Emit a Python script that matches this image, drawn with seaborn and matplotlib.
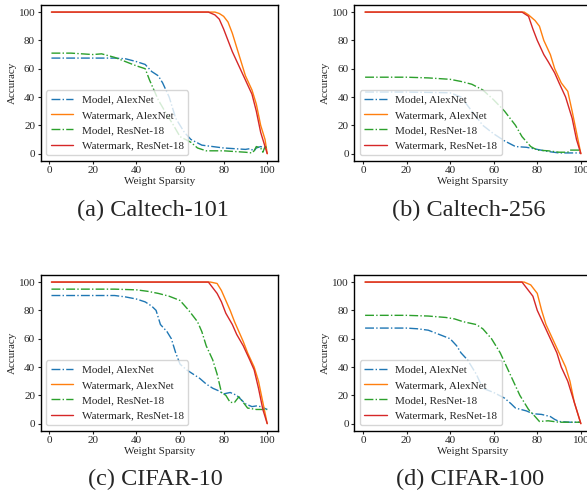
import pandas as pd
import matplotlib
matplotlib.use('Agg')
import matplotlib.pyplot as plt
import seaborn as sns

# --- data (weight sparsity %, accuracy %) ---
series_labels = ['Model, AlexNet', 'Watermark, AlexNet', 'Model, ResNet-18', 'Watermark, ResNet-18']
captions = ['(a) Caltech-101', '(b) Caltech-256', '(c) CIFAR-10', '(d) CIFAR-100']

# (a) Caltech-101
c101_model_alex_x = [1, 10, 20, 30, 35, 40, 44, 47, 50, 52, 55, 58, 62, 65, 70, 75, 80, 85, 90, 92, 94, 95, 97, 99, 100]
c101_model_alex_y = [67.5, 67.5, 67.5, 67.5, 67, 65, 63, 58, 55, 50, 40, 25, 15, 10, 6, 5, 4, 3.5, 3, 3.5, 2, 4, 5, 4, 4]
c101_wm_alex_x = [1, 76, 78, 80, 82, 84, 86, 88, 90, 93, 95, 97, 99, 100]
c101_wm_alex_y = [100, 100, 99, 97, 93, 85, 75, 65, 55, 45, 35, 20, 10, 0]
c101_model_res_x = [1, 10, 20, 24, 30, 35, 40, 44, 46, 48, 50, 53, 57, 60, 65, 68, 72, 80, 85, 90, 93, 94, 95, 97, 98, 99, 100]
c101_model_res_y = [71, 71, 70, 70.5, 68, 65, 62, 60, 52, 45, 38, 30, 20, 12, 8, 4, 2, 2, 1.5, 1, 0.5, 2, 5, 4, 1, 5, 4]
c101_wm_res_x = [1, 73, 76, 78, 80, 82, 84, 87, 90, 93, 95, 97, 99, 100]
c101_wm_res_y = [100, 100, 98, 95, 88, 80, 72, 62, 52, 42, 30, 15, 5, 0]

# (b) Caltech-256
c256_model_alex_x = [1, 20, 40, 45, 50, 55, 60, 65, 70, 75, 80, 85, 90, 95, 100]
c256_model_alex_y = [43.5, 43.5, 43, 40, 30, 20, 14, 9, 5, 4.5, 3, 1.5, 0.5, 0.5, 0.5]
c256_wm_alex_x = [1, 74, 76, 79, 81, 83, 86, 88, 91, 94, 96, 98, 100]
c256_wm_alex_y = [100, 100, 98, 94, 90, 80, 70, 60, 50, 44, 30, 15, 0]
c256_model_res_x = [1, 20, 30, 40, 45, 50, 55, 60, 65, 70, 73, 77, 80, 85, 90, 94, 95, 100]
c256_model_res_y = [54, 54, 53.5, 52.5, 51, 49, 45, 38, 30, 20, 12, 5, 2.5, 2, 1, 1, 2.5, 2.5]
c256_wm_res_x = [1, 73, 76, 78, 80, 83, 85, 88, 90, 93, 96, 98, 100]
c256_wm_res_y = [100, 100, 97, 88, 80, 70, 65, 57, 50, 40, 25, 10, 0]

# (c) CIFAR-10
c10_model_alex_x = [1, 30, 35, 40, 44, 47, 49, 51, 54, 56, 58, 60, 63, 66, 69, 72, 75, 78, 80, 83, 86, 88, 90, 93, 95, 97, 100]
c10_model_alex_y = [90.5, 90.5, 89.5, 88, 86, 83, 80, 70, 65, 60, 50, 42, 38, 35, 32, 28, 25, 23, 21, 22, 20, 17, 14, 12, 12.5, 12, 10]
c10_wm_alex_x = [1, 74, 77, 79, 81, 83, 85, 87, 89, 91, 94, 96, 98, 100]
c10_wm_alex_y = [100, 100, 99, 94, 87, 80, 72, 65, 58, 50, 40, 30, 15, 0]
c10_model_res_x = [1, 30, 40, 45, 50, 55, 60, 64, 68, 70, 72, 75, 77, 79, 81, 83, 85, 87, 89, 91, 95, 100]
c10_model_res_y = [95, 95, 94.5, 93.5, 92, 90, 87, 80, 72, 65, 55, 45, 35, 22, 20, 15, 15, 19, 15, 11, 10, 10]
c10_wm_res_x = [1, 73, 75, 77, 79, 81, 84, 86, 89, 92, 94, 96, 98, 100]
c10_wm_res_y = [100, 100, 96, 92, 86, 78, 70, 63, 55, 45, 38, 25, 10, 0]

# (d) CIFAR-100
c100_model_alex_x = [1, 20, 25, 30, 35, 40, 43, 45, 48, 52, 55, 60, 65, 68, 70, 75, 78, 82, 86, 88, 90, 95, 100]
c100_model_alex_y = [67.5, 67.5, 67, 66, 63, 60, 55, 50, 45, 35, 25, 22, 18, 14, 11, 9, 7, 6.5, 5, 3, 1.5, 1, 1]
c100_wm_alex_x = [1, 74, 77, 80, 82, 84, 87, 90, 93, 95, 97, 100]
c100_wm_alex_y = [100, 100, 98, 92, 80, 70, 60, 50, 40, 30, 15, 0]
c100_model_res_x = [1, 20, 30, 38, 42, 46, 52, 55, 59, 63, 66, 69, 72, 76, 79, 81, 85, 90, 100]
c100_model_res_y = [76.5, 76.5, 76, 75, 74, 72, 70, 67, 60, 50, 40, 30, 20, 10, 5, 1.5, 2, 1, 1]
c100_wm_res_x = [1, 73, 75, 78, 80, 83, 86, 89, 91, 94, 97, 100]
c100_wm_res_y = [100, 100, 96, 90, 80, 70, 60, 50, 40, 30, 15, 0]

panels = [
    [(c101_model_alex_x, c101_model_alex_y), (c101_wm_alex_x, c101_wm_alex_y),
     (c101_model_res_x, c101_model_res_y), (c101_wm_res_x, c101_wm_res_y)],
    [(c256_model_alex_x, c256_model_alex_y), (c256_wm_alex_x, c256_wm_alex_y),
     (c256_model_res_x, c256_model_res_y), (c256_wm_res_x, c256_wm_res_y)],
    [(c10_model_alex_x, c10_model_alex_y), (c10_wm_alex_x, c10_wm_alex_y),
     (c10_model_res_x, c10_model_res_y), (c10_wm_res_x, c10_wm_res_y)],
    [(c100_model_alex_x, c100_model_alex_y), (c100_wm_alex_x, c100_wm_alex_y),
     (c100_model_res_x, c100_model_res_y), (c100_wm_res_x, c100_wm_res_y)],
]

colors = sns.color_palette('tab10')[:4]
styles = ['-.', '-', '-.', '-']


def main():
    sns.set_style('ticks')
    plt.rcParams['font.family'] = ['Liberation Serif', 'DejaVu Serif']
    plt.rcParams['font.size'] = 8

    fig = plt.figure(figsize=(5.87, 4.9), dpi=100)

    # axes boxes in figure fractions: [left, bottom, width, height]
    boxes = [
        [0.0693, 0.672, 0.4043, 0.3178],
        [0.6036, 0.672, 0.4043, 0.3178],
        [0.0693, 0.121, 0.4043, 0.3178],
        [0.6036, 0.121, 0.4043, 0.3178],
    ]
    cap_pos = [(0.261, 0.571), (0.799, 0.571), (0.264, 0.021), (0.801, 0.021)]

    for i, series in enumerate(panels):
        ax = fig.add_axes(boxes[i])
        for j, (xs, ys) in enumerate(series):
            df = pd.DataFrame({'x': xs, 'y': ys})
            sns.lineplot(data=df, x='x', y='y', ax=ax, color=colors[j],
                         linestyle=styles[j], linewidth=1.0, label=series_labels[j])
        ax.set_xticks([0, 20, 40, 60, 80, 100])
        ax.set_yticks([0, 20, 40, 60, 80, 100])
        ax.tick_params(labelsize=8, length=2.5, width=0.8, pad=1.5)
        ax.set_xlabel('Weight Sparsity', fontsize=8, labelpad=1)
        ax.set_ylabel('Accuracy', fontsize=8, labelpad=1.5)
        for s in ax.spines.values():
            s.set_linewidth(1.0)
            s.set_color('black')
        ax.legend(loc='lower left', fontsize=8, handlelength=2.0,
                  borderaxespad=0.5, labelspacing=0.5)
        fig.text(cap_pos[i][0], cap_pos[i][1], captions[i], fontsize=17.5,
                 ha='center', va='center')

    fig.savefig('out.png', dpi=100)


if __name__ == '__main__':
    main()
